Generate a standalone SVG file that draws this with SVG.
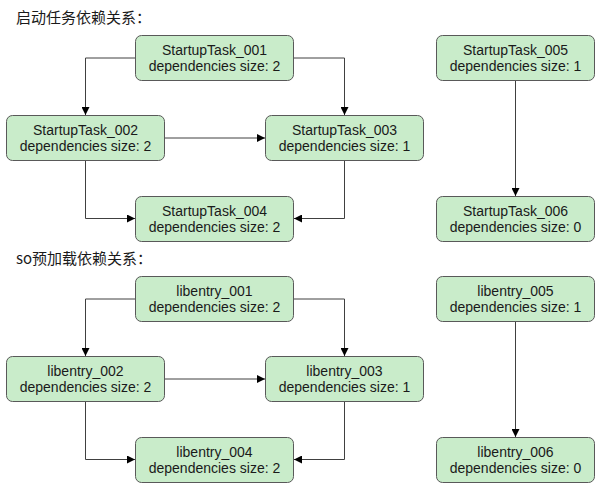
<svg xmlns="http://www.w3.org/2000/svg" width="604" height="492" viewBox="0 0 604 492">
<defs>
<marker id="arr" viewBox="0 0 10 10" refX="10" refY="5" markerWidth="8" markerHeight="8" markerUnits="userSpaceOnUse" orient="auto">
<path d="M0,0 L10,5 L0,10 z" fill="#000"/>
</marker>
</defs>
<style>
.n rect{fill:#c9ecca;stroke:#595959;stroke-width:1}
.n text{font-family:"Liberation Sans",Arial,sans-serif;font-size:14px;fill:#1a1a1a;text-anchor:middle}
.t{font-family:"Noto Sans CJK SC","Noto Sans",sans-serif;font-size:15px;fill:#1a1a1a}
.e path{fill:none;stroke:#404040;stroke-width:1;marker-end:url(#arr)}
</style>
<rect width="604" height="492" fill="#fff"/>
<text class="t" x="16" y="23">启动任务依赖关系：</text>
<text class="t" x="16" y="264">so预加载依赖关系：</text>
<g class="e">
<path d="M135.5,58 H85.5 V115"/>
<path d="M293.5,58 H344.5 V115"/>
<path d="M164.5,138 H265"/>
<path d="M85.5,161 V218.5 H135"/>
<path d="M344.5,161 V218.5 H294"/>
<path d="M515.5,81 V196"/>
<path d="M135.5,299 H85.5 V356"/>
<path d="M293.5,299 H344.5 V356"/>
<path d="M164.5,379 H265"/>
<path d="M85.5,402 V459.5 H135"/>
<path d="M344.5,402 V459.5 H294"/>
<path d="M515.5,322 V437"/>
</g>
<g id="task001" class="n"><rect x="135.5" y="35.5" width="158" height="45" rx="6"/><text x="214.5" y="54.5">StartupTask_001</text><text x="214.5" y="71">dependencies size: 2</text></g>
<g id="task002" class="n"><rect x="6.5" y="115.5" width="158" height="45" rx="6"/><text x="85.5" y="134.5">StartupTask_002</text><text x="85.5" y="151">dependencies size: 2</text></g>
<g id="task003" class="n"><rect x="265.5" y="115.5" width="158" height="45" rx="6"/><text x="344.5" y="134.5">StartupTask_003</text><text x="344.5" y="151">dependencies size: 1</text></g>
<g id="task004" class="n"><rect x="135.5" y="196.5" width="158" height="45" rx="6"/><text x="214.5" y="215.5">StartupTask_004</text><text x="214.5" y="232">dependencies size: 2</text></g>
<g id="task005" class="n"><rect x="436.5" y="35.5" width="158" height="45" rx="6"/><text x="515.5" y="54.5">StartupTask_005</text><text x="515.5" y="71">dependencies size: 1</text></g>
<g id="task006" class="n"><rect x="436.5" y="196.5" width="158" height="45" rx="6"/><text x="515.5" y="215.5">StartupTask_006</text><text x="515.5" y="232">dependencies size: 0</text></g>
<g id="lib001" class="n"><rect x="135.5" y="276.5" width="158" height="45" rx="6"/><text x="214.5" y="295.5">libentry_001</text><text x="214.5" y="312">dependencies size: 2</text></g>
<g id="lib002" class="n"><rect x="6.5" y="356.5" width="158" height="45" rx="6"/><text x="85.5" y="375.5">libentry_002</text><text x="85.5" y="392">dependencies size: 2</text></g>
<g id="lib003" class="n"><rect x="265.5" y="356.5" width="158" height="45" rx="6"/><text x="344.5" y="375.5">libentry_003</text><text x="344.5" y="392">dependencies size: 1</text></g>
<g id="lib004" class="n"><rect x="135.5" y="437.5" width="158" height="45" rx="6"/><text x="214.5" y="456.5">libentry_004</text><text x="214.5" y="473">dependencies size: 2</text></g>
<g id="lib005" class="n"><rect x="436.5" y="276.5" width="158" height="45" rx="6"/><text x="515.5" y="295.5">libentry_005</text><text x="515.5" y="312">dependencies size: 1</text></g>
<g id="lib006" class="n"><rect x="436.5" y="437.5" width="158" height="45" rx="6"/><text x="515.5" y="456.5">libentry_006</text><text x="515.5" y="473">dependencies size: 0</text></g>
</svg>
